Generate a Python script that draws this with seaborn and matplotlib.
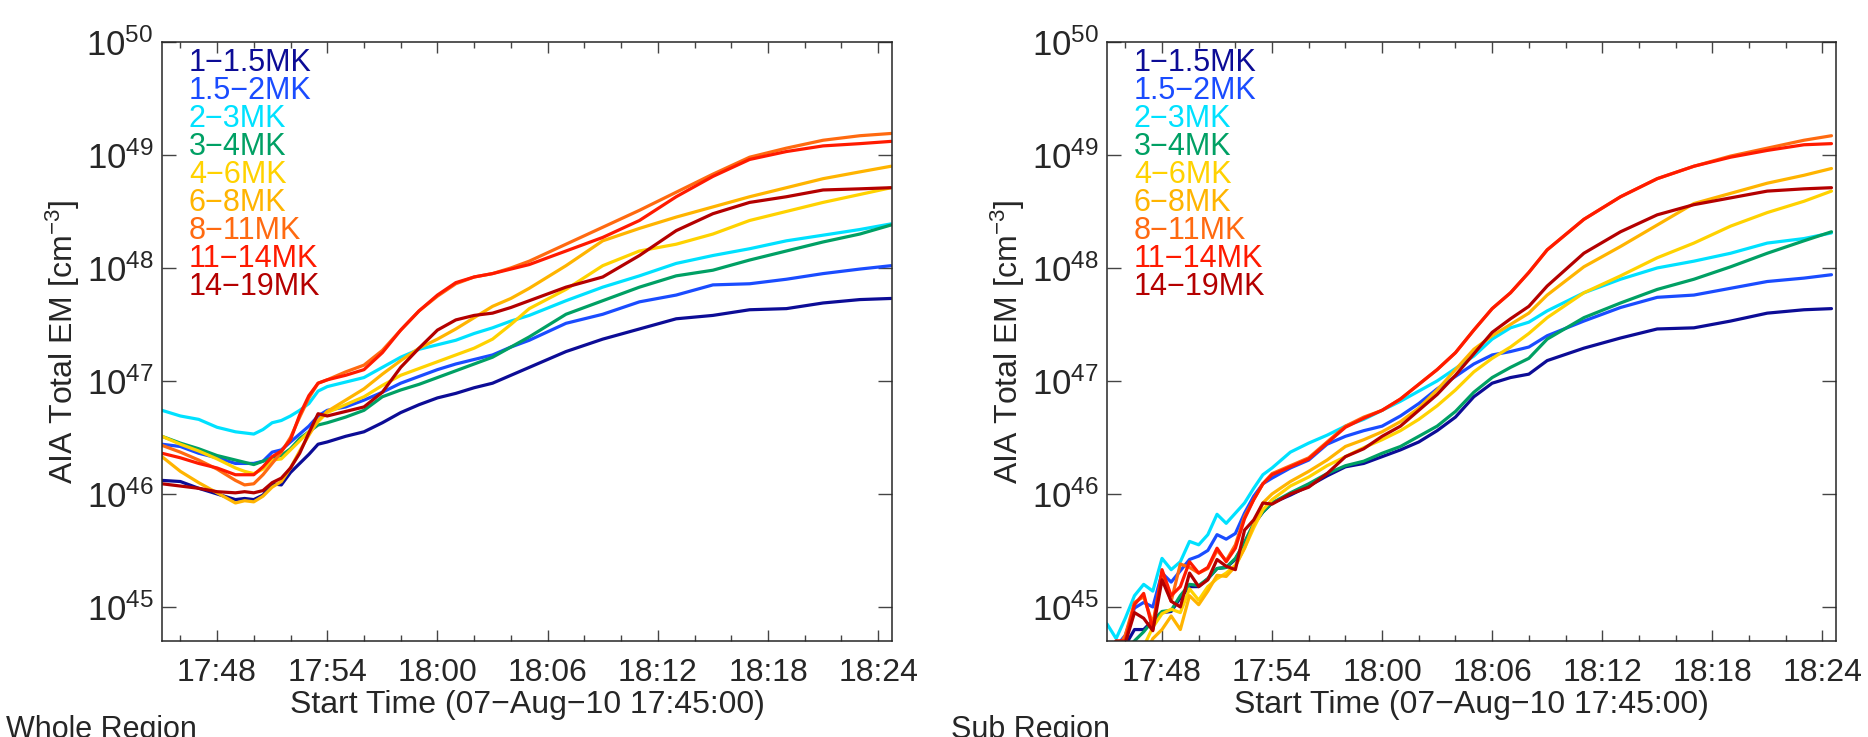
import matplotlib
matplotlib.use("Agg")
import matplotlib.pyplot as plt
import matplotlib.dates as mdates
from matplotlib.ticker import LogLocator, LogFormatterSciNotation, NullLocator
import seaborn as sns
import numpy as np
import pandas as pd

# temperature bins and their colours
bands = ["1\u22121.5MK", "1.5\u22122MK", "2\u22123MK", "3\u22124MK", "4\u22126MK",
         "6\u22128MK", "8\u221211MK", "11\u221214MK", "14\u221219MK"]
band_colors = ["#0c0c96", "#1a4cff", "#00e1ff", "#00a064", "#ffd200",
               "#ffb400", "#ff6a10", "#ff1a00", "#b40000"]

# minutes after 17:45:00, log10(EM)
t_whole = [0, 1, 2, 3, 4, 4.5, 5, 5.5, 6, 6.5, 7, 7.5, 8, 8.5, 9, 10, 11, 12, 13,
           14, 15, 16, 17, 18, 19, 20, 22, 24, 26, 28, 30, 32, 34, 36, 38, 39.7]

whole_1 = [46.12, 46.11, 46.05, 46.00, 45.95, 45.96, 45.95, 45.99, 46.09, 46.08, 46.19, 46.27,
           46.35, 46.44, 46.46, 46.51, 46.55, 46.63, 46.72, 46.79, 46.85, 46.89, 46.94, 46.98,
           47.05, 47.12, 47.26, 47.37, 47.46, 47.55, 47.58, 47.63, 47.64, 47.69, 47.72, 47.73]
whole_2 = [46.44, 46.42, 46.36, 46.32, 46.27, 46.27, 46.27, 46.29, 46.37, 46.39, 46.46, 46.53,
           46.60, 46.69, 46.74, 46.77, 46.83, 46.90, 46.98, 47.04, 47.10, 47.15, 47.19, 47.23,
           47.30, 47.36, 47.51, 47.59, 47.70, 47.76, 47.85, 47.86, 47.90, 47.95, 47.99, 48.02]
whole_3 = [46.74, 46.69, 46.66, 46.59, 46.55, 46.54, 46.53, 46.57, 46.63, 46.65, 46.69, 46.74,
           46.80, 46.91, 46.95, 46.99, 47.03, 47.12, 47.21, 47.28, 47.32, 47.36, 47.42, 47.47,
           47.53, 47.58, 47.71, 47.83, 47.93, 48.04, 48.11, 48.17, 48.24, 48.29, 48.34, 48.39]
whole_4 = [46.51, 46.45, 46.40, 46.34, 46.30, 46.28, 46.26, 46.29, 46.32, 46.34, 46.40, 46.49,
           46.55, 46.61, 46.63, 46.68, 46.74, 46.86, 46.92, 46.97, 47.03, 47.09, 47.15, 47.21,
           47.30, 47.39, 47.59, 47.71, 47.83, 47.93, 47.98, 48.07, 48.15, 48.23, 48.30, 48.38]
whole_5 = [46.51, 46.44, 46.38, 46.31, 46.23, 46.20, 46.18, 46.22, 46.30, 46.31, 46.39, 46.47,
           46.55, 46.64, 46.72, 46.79, 46.86, 46.96, 47.05, 47.11, 47.17, 47.23, 47.29, 47.37,
           47.50, 47.64, 47.81, 48.02, 48.15, 48.21, 48.30, 48.42, 48.50, 48.58, 48.65, 48.71]
whole_6 = [46.33, 46.20, 46.10, 46.01, 45.92, 45.94, 45.93, 45.98, 46.06, 46.11, 46.23, 46.38,
           46.52, 46.65, 46.73, 46.83, 46.93, 47.06, 47.18, 47.29, 47.37, 47.46, 47.56, 47.66,
           47.73, 47.82, 48.02, 48.24, 48.35, 48.45, 48.54, 48.63, 48.71, 48.79, 48.85, 48.90]
whole_7 = [46.43, 46.37, 46.30, 46.22, 46.12, 46.08, 46.09, 46.17, 46.27, 46.37, 46.50, 46.68,
           46.85, 46.98, 47.01, 47.08, 47.14, 47.27, 47.45, 47.62, 47.75, 47.86, 47.92, 47.95,
           48.00, 48.06, 48.21, 48.36, 48.51, 48.67, 48.83, 48.98, 49.06, 49.13, 49.17, 49.19]
whole_8 = [46.36, 46.32, 46.27, 46.23, 46.17, 46.17, 46.17, 46.24, 46.33, 46.38, 46.48, 46.70,
           46.87, 46.98, 47.01, 47.05, 47.10, 47.25, 47.45, 47.62, 47.76, 47.87, 47.92, 47.95,
           47.99, 48.03, 48.15, 48.27, 48.42, 48.63, 48.81, 48.96, 49.03, 49.08, 49.10, 49.12]
whole_9 = [46.09, 46.07, 46.05, 46.02, 46.01, 46.02, 46.01, 46.03, 46.10, 46.14, 46.23, 46.36,
           46.54, 46.71, 46.69, 46.73, 46.77, 46.90, 47.12, 47.29, 47.45, 47.54, 47.58, 47.60,
           47.65, 47.71, 47.83, 47.92, 48.11, 48.33, 48.48, 48.58, 48.63, 48.69, 48.70, 48.71]

t_sub = [0, 0.5, 1, 1.5, 2, 2.5, 3, 3.5, 4, 4.5, 5, 5.5, 6, 6.5, 7, 7.5, 8, 8.5, 9,
         10, 11, 12, 13, 14, 15, 16, 17, 18, 19, 20, 21, 22, 23, 24,
         26, 28, 30, 32, 34, 36, 38, 39.5]

sub_1 = [44.50, 44.60, 44.66, 44.80, 44.80, 44.88, 44.95, 44.96, 45.08, 45.18, 45.18, 45.25,
         45.34, 45.35, 45.42, 45.57, 45.73, 45.84, 45.92, 45.99, 46.07, 46.16, 46.24, 46.27,
         46.33, 46.39, 46.46, 46.56, 46.68, 46.86, 46.98, 47.03, 47.06, 47.18, 47.29, 47.38,
         47.46, 47.47, 47.53, 47.60, 47.63, 47.64]
sub_2 = [44.60, 44.65, 44.75, 44.99, 45.04, 45.00, 45.30, 45.22, 45.32, 45.42, 45.45, 45.50,
         45.64, 45.60, 45.65, 45.83, 45.98, 46.09, 46.14, 46.23, 46.30, 46.44, 46.51, 46.56,
         46.60, 46.69, 46.80, 46.93, 47.04, 47.15, 47.23, 47.26, 47.30, 47.40, 47.53, 47.65,
         47.74, 47.76, 47.82, 47.88, 47.91, 47.94]
sub_3 = [44.85, 44.72, 44.90, 45.10, 45.20, 45.14, 45.43, 45.33, 45.40, 45.58, 45.55, 45.64,
         45.82, 45.74, 45.83, 45.92, 46.05, 46.17, 46.23, 46.37, 46.45, 46.52, 46.60, 46.66,
         46.74, 46.82, 46.91, 47.00, 47.11, 47.22, 47.37, 47.47, 47.52, 47.62, 47.78, 47.90,
         48.00, 48.06, 48.13, 48.22, 48.26, 48.31]
sub_4 = [44.45, 44.55, 44.62, 44.70, 44.78, 44.88, 44.96, 44.97, 45.10, 45.20, 45.19, 45.25,
         45.34, 45.35, 45.43, 45.57, 45.74, 45.84, 45.92, 46.01, 46.09, 46.18, 46.25, 46.29,
         46.36, 46.42, 46.51, 46.60, 46.73, 46.90, 47.03, 47.12, 47.20, 47.37, 47.56, 47.69,
         47.81, 47.90, 48.01, 48.13, 48.24, 48.32]
sub_5 = [44.30, 44.40, 44.50, 44.58, 44.65, 44.82, 44.94, 44.98, 44.95, 45.16, 45.06, 45.18,
         45.25, 45.30, 45.37, 45.52, 45.70, 45.86, 45.95, 46.07, 46.15, 46.25, 46.33, 46.41,
         46.48, 46.56, 46.66, 46.78, 46.92, 47.08, 47.20, 47.30, 47.42, 47.56, 47.78, 47.93,
         48.09, 48.22, 48.37, 48.49, 48.59, 48.68]
sub_6 = [44.20, 44.30, 44.40, 44.50, 44.55, 44.72, 44.80, 44.92, 44.80, 45.10, 45.02, 45.14,
         45.28, 45.27, 45.36, 45.52, 45.73, 45.92, 46.00, 46.11, 46.20, 46.30, 46.42, 46.48,
         46.55, 46.64, 46.76, 46.92, 47.10, 47.28, 47.40, 47.50, 47.60, 47.76, 48.01, 48.19,
         48.38, 48.57, 48.66, 48.75, 48.82, 48.88]
sub_7 = [44.65, 44.60, 44.75, 45.04, 45.09, 44.85, 45.30, 45.05, 45.38, 45.35, 45.30, 45.34,
         45.50, 45.41, 45.55, 45.80, 45.95, 46.09, 46.18, 46.25, 46.32, 46.46, 46.60, 46.68,
         46.74, 46.84, 46.97, 47.10, 47.25, 47.45, 47.64, 47.78, 47.96, 48.16, 48.43, 48.63,
         48.79, 48.90, 48.99, 49.06, 49.13, 49.17]
sub_8 = [44.60, 44.70, 44.70, 45.02, 45.12, 44.80, 45.33, 45.10, 45.18, 45.40, 45.30, 45.35,
         45.52, 45.40, 45.52, 45.78, 45.95, 46.09, 46.17, 46.24, 46.31, 46.45, 46.59, 46.67,
         46.74, 46.84, 46.97, 47.10, 47.25, 47.45, 47.64, 47.78, 47.96, 48.16, 48.43, 48.63,
         48.79, 48.90, 48.98, 49.04, 49.09, 49.10]
sub_9 = [44.55, 44.62, 44.68, 44.95, 44.90, 44.79, 45.24, 45.05, 45.00, 45.30, 45.18, 45.24,
         45.42, 45.36, 45.33, 45.68, 45.77, 45.92, 45.91, 46.00, 46.06, 46.18, 46.33, 46.40,
         46.51, 46.60, 46.74, 46.88, 47.05, 47.24, 47.43, 47.55, 47.66, 47.84, 48.13, 48.32,
         48.47, 48.56, 48.62, 48.68, 48.70, 48.71]

whole_curves = [whole_1, whole_2, whole_3, whole_4, whole_5, whole_6, whole_7, whole_8, whole_9]
sub_curves = [sub_1, sub_2, sub_3, sub_4, sub_5, sub_6, sub_7, sub_8, sub_9]

start = pd.Timestamp("2010-08-07 17:45:00")
end = start + pd.Timedelta(minutes=39.75)


def build_frame(t, curves):
    rows = []
    for band, vals in zip(bands, curves):
        for m, v in zip(t, vals):
            rows.append({"time": start + pd.Timedelta(minutes=m), "band": band, "em": 10.0 ** v})
    return pd.DataFrame(rows)


sns.set_style("ticks")
plt.rcParams["font.family"] = ["Liberation Sans", "DejaVu Sans"]
plt.rcParams["mathtext.fontset"] = "custom"
plt.rcParams["mathtext.rm"] = "Liberation Sans"
plt.rcParams["mathtext.it"] = "Liberation Sans:italic"
plt.rcParams["axes.linewidth"] = 1.1

fig = plt.figure(figsize=(18.68, 7.37), dpi=100)
ax1 = fig.add_axes([0.0867, 0.1303, 0.3908, 0.8128])
ax2 = fig.add_axes([0.5926, 0.1303, 0.3903, 0.8128])

palette = dict(zip(bands, band_colors))

for ax, t, curves, name, nx in [(ax1, t_whole, whole_curves, "Whole Region", 0.003),
                                 (ax2, t_sub, sub_curves, "Sub Region", 0.509)]:
    df = build_frame(t, curves)
    sns.lineplot(data=df, x="time", y="em", hue="band", hue_order=bands, palette=palette,
                 estimator=None, sort=False, linewidth=2.3, legend=False, ax=ax)
    ax.set_yscale("log")
    ax.set_ylim(5e44, 1e50)
    ax.set_xlim(start, end)
    ax.yaxis.set_major_locator(LogLocator(base=10, numticks=10))
    ax.yaxis.set_major_formatter(LogFormatterSciNotation())
    ax.yaxis.set_minor_locator(NullLocator())
    ax.xaxis.set_major_locator(mdates.MinuteLocator(byminute=range(0, 60, 6)))
    ax.xaxis.set_minor_locator(mdates.MinuteLocator(byminute=range(0, 60, 2)))
    ax.xaxis.set_major_formatter(mdates.DateFormatter("%H:%M"))
    ax.tick_params(axis="both", which="both", direction="in", top=True, right=True,
                   color="#444444")
    ax.tick_params(axis="x", which="major", length=8, pad=12, width=1.0, labelsize=23)
    ax.tick_params(axis="x", which="minor", length=4.5, width=1.0)
    ax.tick_params(axis="y", which="major", length=10, pad=6, width=1.0, labelsize=25)
    ax.set_xlabel("Start Time (07\u2212Aug\u221210 17:45:00)", fontsize=23, labelpad=2)
    ax.set_ylabel(r"AIA Total EM [cm$^{-3}$]", fontsize=23, labelpad=3)
    for i, (band, col) in enumerate(zip(bands, band_colors)):
        ax.text(0.037, 0.965 - i * 0.0467, band, color=col, fontsize=22,
                transform=ax.transAxes, ha="left", va="center")
    fig.text(nx, -0.002, name, fontsize=22, ha="left", va="baseline")

fig.savefig("out.png", dpi=100)
